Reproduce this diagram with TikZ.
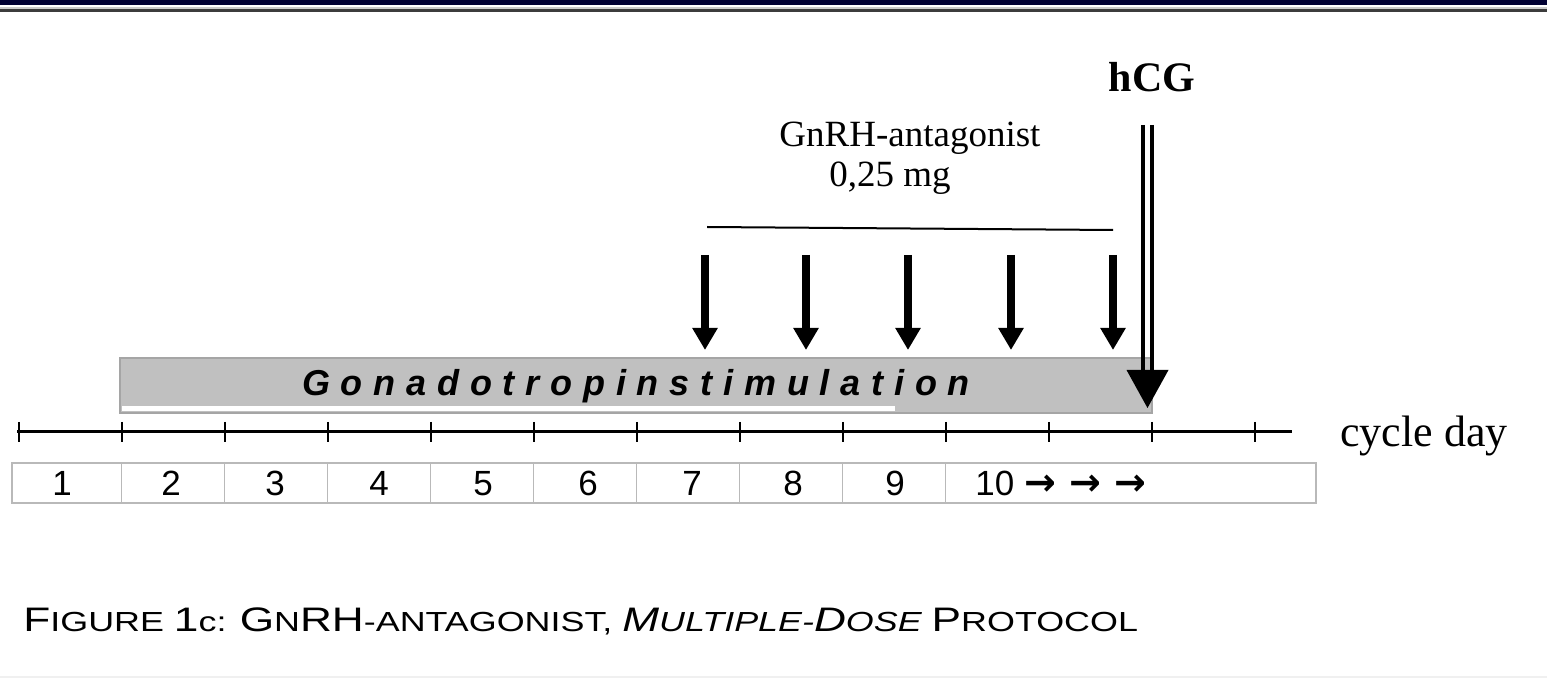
\documentclass[tikz,border=0pt]{standalone}
\usepackage{fontspec}
\setmainfont{Liberation Serif}
\setsansfont{Liberation Sans}
\newfontfamily\stimfont[LetterSpace=30]{Liberation Sans}
\newfontfamily\capfont[FakeStretch=1.3]{Liberation Sans}
\newfontfamily\arrowfont{DejaVu Sans}
\usepackage{xcolor}
\definecolor{barnavy}{RGB}{0,0,51}
\definecolor{stimgray}{RGB}{192,192,192}
\definecolor{stimedge}{RGB}{165,165,165}
\definecolor{cellgray}{RGB}{185,185,185}
\definecolor{rulegray}{RGB}{60,60,60}
\usetikzlibrary{arrows.meta}
\newcommand{\bigsc}[2]{{\fontsize{17}{18}\selectfont #1}#2}
\tikzset{
  dosearrow/.style={line width=4pt, -{Triangle[width=12pt,length=11pt]}},
  hcgline/.style={line width=2pt},
  tickmark/.style={line width=1pt},
  daycell/.style={draw=cellgray, line width=0.75pt},
  daynum/.style={font=\sffamily\fontsize{17.5}{18}\selectfont, anchor=base}
}

\begin{document}
\begin{tikzpicture}[x=0.5pt, y=-0.5pt]
  \useasboundingbox (0,0) rectangle (1547,678);
  % page rules
  \fill[barnavy] (0,0) rectangle (1547,5.5);
  \fill[black!20] (0,7) rectangle (1547,9);
  \fill[rulegray] (0,9) rectangle (1547,12.5);
  \fill[black!6] (0,676) rectangle (1547,678);
  % stimulation bar
  \draw[fill=stimgray, draw=stimedge, line width=1pt] (120,358) rectangle (1152,413);
  \fill[white] (122,406) rectangle (895,411);
  \node[font=\stimfont\bfseries\itshape\fontsize{18}{20}\selectfont, anchor=base] (stim) at (636,396) {Gonadotropinstimulation};
  % time axis
  \draw[line width=1.5pt] (17,432) -- (1292,432);
  \foreach \k in {0,...,12}
    \draw[tickmark] ({18.5+103*\k},422) -- ++(0,20);
  \node[font=\fontsize{22}{24}\selectfont, anchor=base west, inner sep=0pt] (cycleday) at (1340,446) {cycle day};
  % day cells
  \draw[daycell] (12,463) rectangle (1316,503);
  \foreach \k in {1,...,9}
    \draw[daycell] ({18.5+103*\k},463) -- ++(0,40);
  \foreach \d/\x in {1/62, 2/171, 3/275, 4/379, 5/483, 6/588, 7/692, 8/793, 9/895}
    \node[daynum] (day\d) at (\x,495) {\d};
  \node[daynum, anchor=base west, inner sep=0pt] (day10) at (975,495) {10 {\arrowfont\bfseries\fontsize{19}{20}\selectfont → → →}};
  % antagonist doses
  \node[font=\fontsize{18.5}{20}\selectfont, anchor=base] (antagname) at (910,147) {GnRH-antagonist};
  \node[font=\fontsize{18.5}{20}\selectfont, anchor=base] (antagdose) at (890,187) {0,25 mg};
  \draw[line width=1pt] (707,227) -- (1113,230);
  \foreach \x in {705,806,908,1011,1113}
    \draw[dosearrow] (\x,255) -- (\x,350);
  % hCG trigger
  \node[font=\bfseries\fontsize{21}{22}\selectfont, anchor=base] (hcg) at (1152,92) {hCG};
  \coordinate (hcgtop) at (1147.5,125);
  \coordinate (hcgtip) at (1147.5,408);
  \draw[hcgline] ([xshift=-2.25pt]hcgtop) -- ([xshift=-2.25pt,yshift=15pt]hcgtip);
  \draw[hcgline] ([xshift=2.25pt]hcgtop) -- ([xshift=2.25pt,yshift=15pt]hcgtip);
  \fill (hcgtip) -- ++(-21,-38) -- ++(42,0) -- cycle;
  % caption
  \node[font=\capfont\fontsize{13.8}{15}\selectfont, anchor=base west, inner sep=0pt] (caption) at (23,631)
    {\bigsc{F}{IGURE} \bigsc{1}{c}: \bigsc{G}{N}\bigsc{RH}{-ANTAGONIST}, {\itshape\bigsc{M}{ULTIPLE}-\bigsc{D}{OSE}} \bigsc{P}{ROTOCOL}};
\end{tikzpicture}
\end{document}
